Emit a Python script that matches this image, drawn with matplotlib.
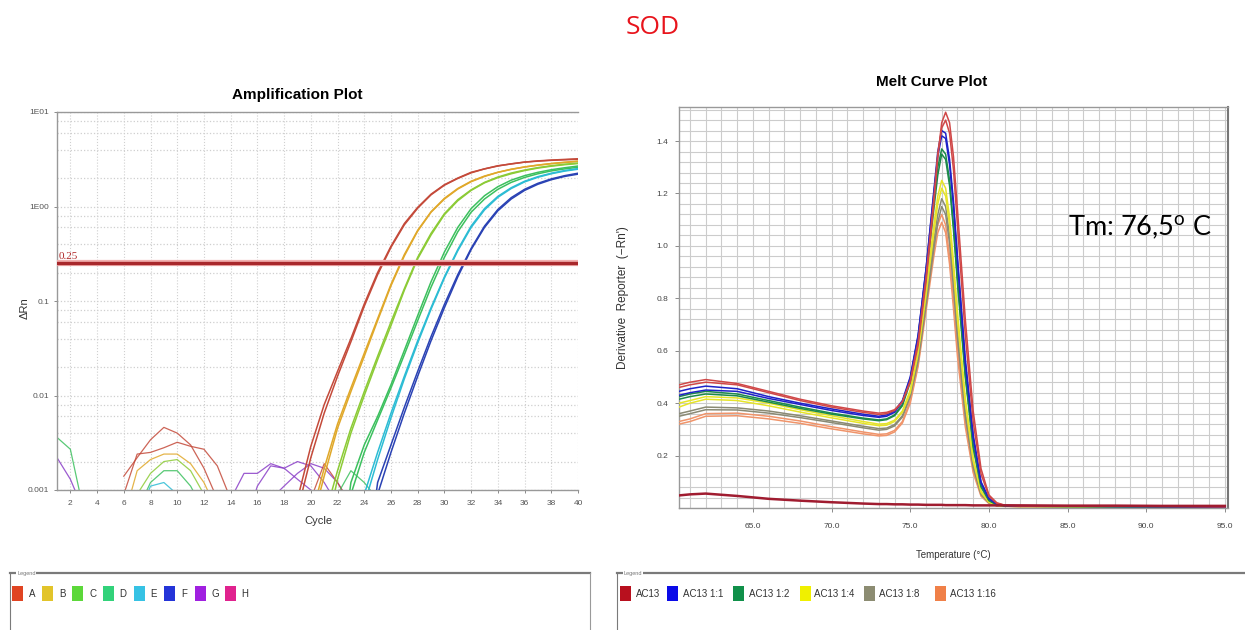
"""
SOD — qPCR amplification plot and melt curve plot
Values read off the instrument screenshot
"""

import matplotlib
matplotlib.use("Agg")
import matplotlib.pyplot as plt
import matplotlib.ticker as mticker
from matplotlib.patches import Rectangle
from matplotlib.lines import Line2D

plt.rcParams["mathtext.fontset"] = "custom"
plt.rcParams["mathtext.rm"] = "Lato"

NARROW = ["Liberation Sans Narrow", "Liberation Sans", "DejaVu Sans"]

# ---------------- Amplification data (delta Rn per cycle) ----------------
amp_cycles = list(range(18, 41))
amp_A1 = [0.0003, 0.0008, 0.0029, 0.008, 0.018, 0.04, 0.093, 0.2, 0.38, 0.66, 0.98, 1.35,
          1.7, 2.0, 2.3, 2.5, 2.7, 2.82, 2.95, 3.02, 3.08, 3.12, 3.16]
amp_A2 = [0.0002, 0.0006, 0.0022, 0.0065, 0.016, 0.037, 0.088, 0.19, 0.37, 0.64, 0.96, 1.33,
          1.68, 1.98, 2.27, 2.5, 2.68, 2.83, 2.95, 3.04, 3.1, 3.15, 3.2]
amp_B1 = [0.0001, 0.0002, 0.0005, 0.0017, 0.005, 0.012, 0.028, 0.065, 0.15, 0.31, 0.56, 0.88,
          1.22, 1.55, 1.85, 2.1, 2.3, 2.48, 2.62, 2.74, 2.84, 2.92, 3.0]
amp_B2 = [0.0001, 0.0002, 0.0004, 0.0014, 0.0045, 0.011, 0.026, 0.062, 0.145, 0.3, 0.55, 0.87,
          1.2, 1.53, 1.83, 2.08, 2.3, 2.47, 2.62, 2.74, 2.85, 2.94, 3.02]
amp_C1 = [0.0001, 0.0001, 0.0001, 0.0003, 0.0013, 0.004, 0.01, 0.024, 0.055, 0.13, 0.28, 0.5,
          0.82, 1.15, 1.48, 1.78, 2.02, 2.22, 2.4, 2.55, 2.67, 2.77, 2.85]
amp_C2 = [0.0001, 0.0001, 0.0002, 0.0005, 0.0016, 0.0045, 0.011, 0.026, 0.06, 0.135, 0.29, 0.52,
          0.84, 1.18, 1.5, 1.8, 2.05, 2.26, 2.43, 2.58, 2.7, 2.8, 2.88]
amp_D1 = [0.0001, 0.0001, 0.0001, 0.0001, 0.0001, 0.0012, 0.003, 0.006, 0.013, 0.03, 0.07, 0.16,
          0.33, 0.6, 0.95, 1.3, 1.62, 1.9, 2.12, 2.3, 2.45, 2.57, 2.68]
amp_D2 = [0.0001, 0.0001, 0.0001, 0.0001, 0.0001, 0.0009, 0.0025, 0.0055, 0.012, 0.027, 0.062, 0.14,
          0.29, 0.54, 0.87, 1.2, 1.52, 1.8, 2.03, 2.22, 2.38, 2.5, 2.6]
amp_E1 = [0.0001, 0.0001, 0.0001, 0.0001, 0.0001, 0.0001, 0.0009, 0.0025, 0.0065, 0.016, 0.038, 0.085,
          0.18, 0.35, 0.62, 0.95, 1.28, 1.58, 1.85, 2.07, 2.25, 2.4, 2.52]
amp_E2 = [0.0001, 0.0001, 0.0001, 0.0001, 0.0001, 0.0001, 0.0007, 0.0021, 0.0058, 0.015, 0.036, 0.082,
          0.175, 0.34, 0.6, 0.92, 1.25, 1.55, 1.82, 2.04, 2.22, 2.37, 2.48]
amp_F1 = [0.0001, 0.0001, 0.0001, 0.0001, 0.0001, 0.0001, 0.0001, 0.0009, 0.0025, 0.0065, 0.016, 0.038,
          0.085, 0.18, 0.35, 0.6, 0.9, 1.2, 1.48, 1.72, 1.92, 2.08, 2.2]
amp_F2 = [0.0001, 0.0001, 0.0001, 0.0001, 0.0001, 0.0001, 0.0001, 0.0012, 0.003, 0.0075, 0.018, 0.042,
          0.092, 0.19, 0.36, 0.62, 0.93, 1.24, 1.52, 1.76, 1.96, 2.12, 2.25]

# background noise near the bottom of the log axis (cycle, value)
noise_early_cyc = [1, 2, 3]
noise_early_D = [0.0036, 0.0027, 0.0006]
noise_early_G = [0.0022, 0.0013, 0.0006]
noise_mid_cyc = [6, 7, 8, 9, 10, 11, 12, 13, 14]
noise_mid_A1 = [0.0014, 0.0022, 0.0034, 0.0046, 0.004, 0.003, 0.0017, 0.0008, 0.0004]
noise_mid_A2 = [0.0009, 0.0024, 0.0025, 0.0028, 0.0032, 0.0029, 0.0027, 0.0018, 0.0008]
noise_mid_B = [0.0005, 0.0016, 0.0021, 0.0024, 0.0024, 0.0019, 0.0012, 0.0006, 0.0004]
noise_mid_C = [0.0004, 0.0009, 0.0015, 0.002, 0.0021, 0.0016, 0.0009, 0.0005, 0.0004]
noise_mid_D = [0.0004, 0.0006, 0.0012, 0.0016, 0.0016, 0.0011, 0.0006, 0.0004, 0.0004]
noise_mid_E = [0.0004, 0.0005, 0.0011, 0.0012, 0.0009, 0.0006, 0.0004, 0.0004, 0.0004]
noise_late_cyc = [13, 14, 15, 16, 17, 18, 19, 20, 21, 22, 23, 24, 25]
noise_late_G1 = [0.0005, 0.0008, 0.0015, 0.0015, 0.0019, 0.0017, 0.002, 0.0018, 0.0012, 0.0007, 0.0004, 0.0004, 0.0004]
noise_late_G2 = [0.0004, 0.0004, 0.0004, 0.0004, 0.0008, 0.0011, 0.0015, 0.0019, 0.0017, 0.0012, 0.0007, 0.0004, 0.0004]
noise_late_G3 = [0.0004, 0.0004, 0.0004, 0.0011, 0.0018, 0.0017, 0.0013, 0.001, 0.0007, 0.0004, 0.0004, 0.0004, 0.0004]
noise_late_A = [0.0004, 0.0004, 0.0004, 0.0004, 0.0004, 0.0004, 0.0004, 0.0008, 0.0019, 0.0012, 0.0007, 0.0004, 0.0004]
noise_late_D = [0.0004, 0.0004, 0.0004, 0.0004, 0.0004, 0.0004, 0.0004, 0.0004, 0.0004, 0.0009, 0.0016, 0.0012, 0.0008]

threshold = 0.25
amp_xticks = list(range(2, 41, 2))
amp_yticks = [0.001, 0.01, 0.1, 1, 10]
amp_yticklabels = ["0.001", "0.01", "0.1", "1E00", "1E01"]
amp_legend = ["A", "B", "C", "D", "E", "F", "G", "H"]

# ---------------- Melt curve data (derivative reporter) ----------------
melt_temp = [60.3, 61, 62, 64, 66, 68, 70, 72, 73,
             73.5, 74, 74.5, 75, 75.5, 76, 76.5,
             76.75, 77, 77.25, 77.5, 77.75, 78,
             78.5, 79, 79.5, 80, 80.5, 81,
             82, 85, 88, 91, 95]
melt_ac13_1 = [0.47, 0.48, 0.49, 0.475, 0.445, 0.415, 0.39, 0.37, 0.362,
               0.365, 0.375, 0.405, 0.48, 0.62, 0.86, 1.16,
               1.34, 1.47, 1.51, 1.47, 1.34, 1.14,
               0.72, 0.37, 0.15, 0.05, 0.02, 0.011,
               0.009, 0.008, 0.007, 0.007, 0.005]
melt_ac13_2 = [0.46, 0.47, 0.48, 0.47, 0.44, 0.41, 0.385, 0.365, 0.357,
               0.36, 0.372, 0.405, 0.485, 0.635, 0.88, 1.18,
               1.35, 1.45, 1.48, 1.43, 1.29, 1.08,
               0.66, 0.33, 0.13, 0.045, 0.018, 0.01,
               0.008, 0.007, 0.007, 0.006, 0.005]
melt_11_1 = [0.445, 0.455, 0.465, 0.455, 0.425, 0.4, 0.378, 0.358, 0.35,
             0.355, 0.37, 0.41, 0.5, 0.66, 0.91, 1.21,
             1.36, 1.44, 1.43, 1.33, 1.17, 0.96,
             0.57, 0.28, 0.1, 0.038, 0.016, 0.01,
             0.008, 0.007, 0.006, 0.006, 0.004]
melt_11_2 = [0.43, 0.44, 0.45, 0.445, 0.418, 0.395, 0.372, 0.353, 0.346,
             0.35, 0.365, 0.405, 0.495, 0.655, 0.91, 1.2,
             1.34, 1.42, 1.41, 1.31, 1.15, 0.94,
             0.55, 0.27, 0.095, 0.035, 0.015, 0.009,
             0.008, 0.007, 0.006, 0.005, 0.004]
melt_12_1 = [0.425, 0.435, 0.445, 0.435, 0.41, 0.385, 0.362, 0.343, 0.336,
             0.34, 0.355, 0.395, 0.49, 0.65, 0.9, 1.17,
             1.3, 1.37, 1.35, 1.25, 1.08, 0.88,
             0.51, 0.24, 0.085, 0.03, 0.013, 0.008,
             0.007, 0.006, 0.006, 0.005, 0.004]
melt_12_2 = [0.415, 0.425, 0.435, 0.428, 0.404, 0.38, 0.358, 0.34, 0.333,
             0.337, 0.352, 0.39, 0.48, 0.64, 0.88, 1.14,
             1.27, 1.35, 1.33, 1.23, 1.06, 0.86,
             0.5, 0.23, 0.08, 0.028, 0.012, 0.008,
             0.007, 0.006, 0.005, 0.005, 0.004]
melt_14_1 = [0.4, 0.41, 0.425, 0.42, 0.4, 0.375, 0.352, 0.33, 0.32,
             0.322, 0.335, 0.37, 0.45, 0.6, 0.83, 1.08,
             1.19, 1.25, 1.22, 1.11, 0.94, 0.75,
             0.42, 0.19, 0.066, 0.024, 0.011, 0.007,
             0.007, 0.006, 0.006, 0.005, 0.005]
melt_14_2 = [0.385, 0.4, 0.415, 0.41, 0.39, 0.366, 0.344, 0.323, 0.314,
             0.316, 0.33, 0.365, 0.44, 0.59, 0.81, 1.05,
             1.16, 1.22, 1.19, 1.08, 0.91, 0.72,
             0.4, 0.18, 0.06, 0.022, 0.01, 0.007,
             0.006, 0.006, 0.005, 0.005, 0.005]
melt_18_1 = [0.36, 0.37, 0.385, 0.382, 0.37, 0.352, 0.332, 0.312, 0.303,
             0.305, 0.318, 0.352, 0.43, 0.57, 0.79, 1.02,
             1.12, 1.18, 1.15, 1.04, 0.87, 0.68,
             0.37, 0.165, 0.056, 0.021, 0.009, 0.007,
             0.006, 0.006, 0.005, 0.005, 0.004]
melt_18_2 = [0.35, 0.36, 0.375, 0.374, 0.362, 0.345, 0.326, 0.306, 0.297,
             0.3, 0.313, 0.347, 0.425, 0.56, 0.77, 0.99,
             1.09, 1.15, 1.12, 1.01, 0.84, 0.65,
             0.35, 0.155, 0.052, 0.02, 0.009, 0.007,
             0.006, 0.005, 0.005, 0.005, 0.004]
melt_116_1 = [0.33, 0.34, 0.36, 0.362, 0.35, 0.332, 0.31, 0.29, 0.281,
              0.283, 0.296, 0.33, 0.41, 0.55, 0.77, 0.99,
              1.08, 1.12, 1.08, 0.96, 0.79, 0.61,
              0.33, 0.145, 0.05, 0.019, 0.009, 0.007,
              0.006, 0.005, 0.005, 0.004, 0.004]
melt_116_2 = [0.32, 0.33, 0.35, 0.352, 0.34, 0.323, 0.302, 0.283, 0.275,
              0.277, 0.29, 0.324, 0.4, 0.54, 0.75, 0.96,
              1.05, 1.09, 1.05, 0.93, 0.76, 0.58,
              0.31, 0.135, 0.045, 0.017, 0.008, 0.006,
              0.005, 0.005, 0.004, 0.004, 0.004]
melt_ntc = [0.048, 0.052, 0.055, 0.046, 0.035, 0.028, 0.022, 0.017, 0.015,
            0.015, 0.014, 0.014, 0.013, 0.013, 0.012, 0.012,
            0.012, 0.012, 0.011, 0.011, 0.011, 0.011,
            0.011, 0.01, 0.01, 0.01, 0.01, 0.01,
            0.01, 0.009, 0.009, 0.008, 0.008]

melt_xticks = [65, 70, 75, 80, 85, 90, 95]
melt_yticks = [0.2, 0.4, 0.6, 0.8, 1.0, 1.2, 1.4]
melt_legend = ["AC13", "AC13 1:1", "AC13 1:2", "AC13 1:4", "AC13 1:8", "AC13 1:16"]

# colours
amp_line_col = {"A": "#c44a3a", "B": "#e0a82a", "C": "#8ccb36", "D": "#3cc05e",
                "E": "#2cbcd4", "F": "#2a42b4", "G": "#8a3ec8", "H": "#d0308c"}
amp_leg_col = ["#e04422", "#e2c42a", "#5cd83a", "#32d27a", "#36c2e4", "#2434d8", "#a020e0", "#e0228e"]
melt_leg_col = ["#b8101e", "#0a0ae8", "#10904a", "#f0f000", "#8c8c72", "#f08048"]
melt_line_col = {"ac13": "#d04848", "11": "#1e22c8", "12": "#1c8a4a", "14": "#e6e428",
                 "18": "#8a8a74", "116": "#f0946a", "ntc": "#a01c30"}


def fx(x):
    return x / 1245


def fy(y):
    return 1 - y / 630


fig = plt.figure(figsize=(12.45, 6.3), dpi=100)
fig.patch.set_facecolor("white")

fig.text(fx(653), fy(27), "SOD", color="#e8141c", fontsize=19, family=["Open Sans", "DejaVu Sans"],
         ha="center", va="center")

# ================= Amplification plot =================
ax1 = fig.add_axes([fx(57), fy(490), (578 - 57) / 1245, (490 - 112) / 630])
ax1.set_yscale("log")
ax1.set_xlim(1, 40)
ax1.set_ylim(0.001, 10)

amp_sets = [("A", amp_A1), ("A", amp_A2), ("B", amp_B1), ("B", amp_B2), ("C", amp_C1), ("C", amp_C2),
            ("D", amp_D1), ("D", amp_D2), ("E", amp_E1), ("E", amp_E2), ("F", amp_F1), ("F", amp_F2)]
for well, vals in amp_sets:
    ax1.plot(amp_cycles, vals, color=amp_line_col[well], lw=1.1, zorder=3)

noise_sets = [(noise_early_cyc, noise_early_D, "D"), (noise_early_cyc, noise_early_G, "G"),
              (noise_mid_cyc, noise_mid_A1, "A"), (noise_mid_cyc, noise_mid_A2, "A"),
              (noise_mid_cyc, noise_mid_B, "B"), (noise_mid_cyc, noise_mid_C, "C"),
              (noise_mid_cyc, noise_mid_D, "D"), (noise_mid_cyc, noise_mid_E, "E"),
              (noise_late_cyc, noise_late_G1, "G"), (noise_late_cyc, noise_late_G2, "G"),
              (noise_late_cyc, noise_late_G3, "G"), (noise_late_cyc, noise_late_A, "A"),
              (noise_late_cyc, noise_late_D, "D")]
for cyc, vals, well in noise_sets:
    ax1.plot(cyc, vals, color=amp_line_col[well], lw=0.9, alpha=0.85, zorder=2)

ax1.axhline(threshold, color="#f2b0b0", lw=4.5, zorder=4)
ax1.axhline(threshold, color="#a8282c", lw=2.4, zorder=5)
ax1.text(1.15, threshold * 1.05, "0.25", color="#b02828", fontsize=8,
         family=["Liberation Serif", "DejaVu Serif"], va="bottom", ha="left", zorder=6)

ax1.set_xticks(amp_xticks)
ax1.set_xticklabels([str(c) for c in amp_xticks])
ax1.set_yticks(amp_yticks)
ax1.set_yticklabels(amp_yticklabels)
ax1.yaxis.set_minor_locator(mticker.LogLocator(base=10, subs=[2, 4, 6, 8]))
ax1.yaxis.set_minor_formatter(mticker.NullFormatter())
ax1.grid(True, which="major", axis="x", color="#d0d0d0", ls=":", lw=0.8)
ax1.grid(True, which="both", axis="y", color="#cfcfcf", ls=":", lw=0.9)
for lab in ax1.get_xticklabels() + ax1.get_yticklabels():
    lab.set_family(NARROW)
    lab.set_fontsize(6)
ax1.tick_params(axis="both", which="major", length=2, width=0.6, colors="#777777", labelcolor="#555555")
ax1.tick_params(axis="x", which="major", pad=5)
ax1.tick_params(axis="y", which="minor", length=0)
for side in ["left", "bottom", "top"]:
    ax1.spines[side].set_color("#999999")
    ax1.spines[side].set_linewidth(1.0)
ax1.spines["right"].set_visible(False)

fig.text(fx(297), fy(95), "Amplification Plot", fontsize=11, weight="bold", family=NARROW,
         ha="center", va="center")
fig.text(fx(318), fy(521), "Cycle", fontsize=8, family=NARROW, ha="center", va="center", color="#333333")
fig.text(fx(25), fy(308), "ΔRn", fontsize=8, family=NARROW, ha="center", va="center",
         rotation=90, color="#333333")

# ================= Melt curve plot =================
ax2 = fig.add_axes([fx(679), fy(508), (1228 - 679) / 1245, (508 - 107) / 630])
ax2.set_xlim(60.3, 95.2)
ax2.set_ylim(0.0, 1.53)

melt_sets = [("116", melt_116_1), ("116", melt_116_2), ("18", melt_18_1), ("18", melt_18_2),
             ("14", melt_14_1), ("14", melt_14_2), ("12", melt_12_1), ("12", melt_12_2),
             ("11", melt_11_1), ("11", melt_11_2), ("ac13", melt_ac13_1), ("ac13", melt_ac13_2)]
for key, vals in melt_sets:
    ax2.plot(melt_temp, vals, color=melt_line_col[key], lw=1.1, zorder=3)
ax2.plot(melt_temp, melt_ntc, color=melt_line_col["ntc"], lw=1.8, zorder=3)

ax2.set_xticks(melt_xticks)
ax2.set_xticklabels([f"{t:.1f}" for t in melt_xticks])
ax2.xaxis.set_minor_locator(mticker.MultipleLocator(1))
ax2.set_yticks(melt_yticks)
ax2.set_yticklabels([f"{v:.1f}" for v in melt_yticks])
ax2.yaxis.set_minor_locator(mticker.MultipleLocator(0.04))
ax2.grid(True, which="both", color="#cccccc", lw=0.8)
ax2.set_axisbelow(True)
for lab in ax2.get_xticklabels() + ax2.get_yticklabels():
    lab.set_family(NARROW)
    lab.set_fontsize(6)
ax2.tick_params(axis="both", which="major", length=3, width=0.6, colors="#777777", labelcolor="#444444")
ax2.tick_params(axis="x", which="major", pad=8)
ax2.tick_params(axis="y", which="major", pad=5)
ax2.tick_params(axis="both", which="minor", length=0)
for side in ax2.spines.values():
    side.set_color("#999999")
    side.set_linewidth(1.0)
ax2.spines["right"].set_color("#777777")
ax2.spines["right"].set_linewidth(1.5)

fig.text(fx(932), fy(82), "Melt Curve Plot", fontsize=11, weight="bold", family=NARROW,
         ha="center", va="center")
fig.text(fx(953), fy(555), "Temperature (°C)", fontsize=7, family=NARROW, ha="center", va="center",
         color="#333333")
fig.text(fx(623), fy(298), "Derivative  Reporter  (\u2212Rn')", fontsize=8.5, family=NARROW, ha="center",
         va="center", rotation=90, color="#333333")
fig.text(fx(1068), fy(228), "Tm: 76,5$^{\\mathrm{o}}$ C", fontsize=19.5, family=["Lato", "DejaVu Sans"],
         ha="left", va="center", color="black")


# ================= Legend boxes =================
def legend_frame(x0, x1, names, colors, sq_x, lab_x):
    fig.add_artist(Line2D([fx(x0), fx(x1)], [fy(573), fy(573)], color="#7a7a7a", lw=1.6))
    fig.add_artist(Line2D([fx(x0), fx(x0)], [fy(573), fy(640)], color="#7a7a7a", lw=0.8))
    if x1 < 1240:
        fig.add_artist(Line2D([fx(x1), fx(x1)], [fy(573), fy(640)], color="#9a9a9a", lw=0.8))
    fig.text(fx(x0 + 7), fy(573), "Legend", fontsize=4, family=NARROW, color="#777777",
             ha="left", va="center", bbox=dict(facecolor="white", edgecolor="none", pad=0.5))
    for name, col, sx, lx in zip(names, colors, sq_x, lab_x):
        fig.add_artist(Rectangle((fx(sx), fy(601)), 11 / 1245, 15 / 630, facecolor=col,
                                 edgecolor="none"))
        fig.text(fx(lx), fy(594), name, fontsize=7, family=NARROW, color="#333333",
                 ha="left", va="center")


legend_frame(10, 590, amp_legend, amp_leg_col,
             [12, 42, 72, 103, 134, 164, 195, 225], [29, 59, 89, 119, 150, 181, 211, 241])
legend_frame(617, 1250, melt_legend, melt_leg_col,
             [620, 667, 733, 800, 864, 935], [636, 683, 749, 814, 879, 950])

fig.savefig("out.png", dpi=100)
